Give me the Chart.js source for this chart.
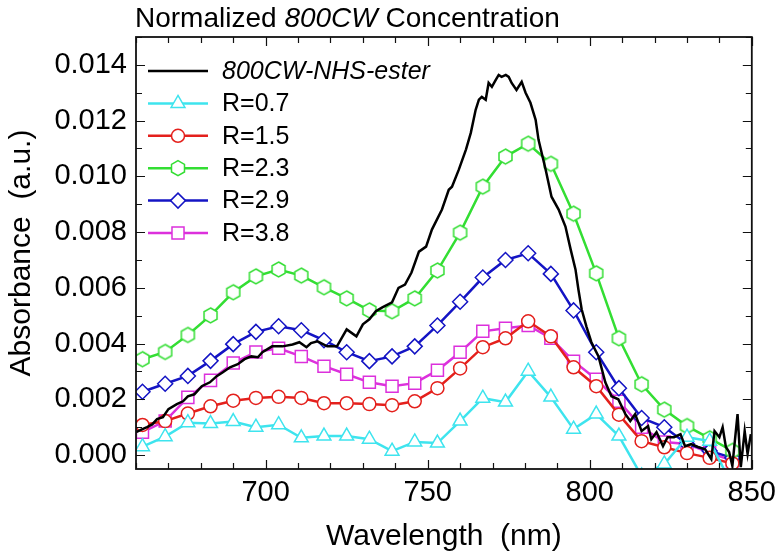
<!DOCTYPE html>
<html lang="en">
<head>
<meta charset="UTF-8">
<title>Normalized 800CW Concentration</title>
<script src="https://cdn.jsdelivr.net/npm/chart.js"></script>
<style>
  body { margin: 0; background: #fff; }
  #wrap { width: 783px; height: 558px; }
</style>
</head>
<body>
<div id="wrap"><canvas id="absChart" width="783" height="558"></canvas></div>
<script>
// marker series share the same wavelength grid (nm)
const wavelengths = [662, 669, 676, 683, 690, 697, 704, 711, 718, 725, 732, 739, 746, 753,
                     760, 767, 774, 781, 788, 795, 802, 809, 816, 823, 830, 837, 844];
const r07 = [0.00030, 0.00066, 0.00116, 0.00113, 0.00120, 0.00100, 0.00109, 0.00062, 0.00068, 0.00068,
             0.00057, 0.00014, 0.00047, 0.00043, 0.00122, 0.00204, 0.00190, 0.00301, 0.00208, 0.00093,
             0.00147, 0.00068, -0.00075, -0.00032, 0.00064, 0.00050, -0.00110];
const r15 = [0.00108, 0.00122, 0.00149, 0.00175, 0.00195, 0.00205, 0.00209, 0.00205, 0.00186, 0.00186,
             0.00183, 0.00179, 0.00193, 0.00240, 0.00311, 0.00387, 0.00419, 0.00480, 0.00426, 0.00315,
             0.00247, 0.00145, 0.00050, 0.00028, 0.00007, -0.00010, -0.00030];
const r23 = [0.00344, 0.00370, 0.00431, 0.00501, 0.00584, 0.00641, 0.00666, 0.00644, 0.00602, 0.00562,
             0.00519, 0.00516, 0.00562, 0.00662, 0.00798, 0.00963, 0.01071, 0.01117, 0.01045, 0.00866,
             0.00652, 0.00419, 0.00254, 0.00163, 0.00104, 0.00060, 0.00015];
const r29 = [0.00227, 0.00256, 0.00284, 0.00338, 0.00398, 0.00442, 0.00462, 0.00448, 0.00412, 0.00369,
             0.00337, 0.00354, 0.00390, 0.00465, 0.00550, 0.00637, 0.00700, 0.00724, 0.00650, 0.00519,
             0.00369, 0.00240, 0.00133, 0.00100, 0.00040, 0.00015, -0.00010];
const r38 = [0.00082, 0.00122, 0.00207, 0.00268, 0.00330, 0.00370, 0.00383, 0.00354, 0.00319, 0.00290,
             0.00261, 0.00247, 0.00258, 0.00304, 0.00369, 0.00444, 0.00455, 0.00465, 0.00419, 0.00337,
             0.00272, 0.00193, 0.00100, 0.00047, 0.00040, 0.00008, -0.00020];

// free dye spectrum (dense, noisy)
const esterWl = [660, 662, 663.4, 665, 666.5, 668.3, 670, 672.6, 674.5, 676, 678, 680.3, 682.8, 684.9,
  686.8, 689, 691.4, 693.5, 695.6, 697.6, 699, 702, 705.2, 708.3, 710.4, 712.6, 714, 716, 719, 722,
  725, 728, 730, 732, 734, 736, 739, 741, 743, 745, 747.3, 749.5, 751.3, 754.4, 756.5, 757.5, 759.6,
  761.8, 763.3, 764.8, 765.8, 766.7, 767.9, 768.8, 769.8, 771, 771.9, 772.8, 774.1, 775, 775.9, 777.4,
  779, 780.2, 781.7, 783.3, 784.2, 786.4, 788.2, 790.4, 792.5, 794.1, 795.6, 796.5, 797.5, 799, 800.5,
  802.7, 804.8, 806.7, 808.8, 811, 812.5, 814, 816, 818, 819, 820.6, 822.6, 824, 826, 828, 829.4,
  831.3, 833.4, 835.6, 837.5, 838.5, 840, 841, 842, 843, 844, 845.6, 846.6, 847.8, 848.7, 849.7];
const esterAbs = [0.00082, 0.00093, 0.00100, 0.00110, 0.00129, 0.00136, 0.00165, 0.00183, 0.00193, 0.00211,
  0.00218, 0.00247, 0.00261, 0.00283, 0.00297, 0.00315, 0.00326, 0.00344, 0.00354, 0.00351, 0.00369,
  0.00390, 0.00390, 0.00397, 0.00405, 0.00387, 0.00402, 0.00408, 0.00390, 0.00390, 0.00451, 0.00426,
  0.00469, 0.00487, 0.00516, 0.00530, 0.00548, 0.00600, 0.00612, 0.00655, 0.00730, 0.00748, 0.00809,
  0.00881, 0.00952, 0.00963, 0.01024, 0.01096, 0.01156, 0.01239, 0.01275, 0.01285, 0.01275, 0.01335,
  0.01321, 0.01346, 0.01364, 0.01357, 0.01364, 0.01357, 0.01335, 0.01310, 0.01339, 0.01300, 0.01264,
  0.01203, 0.01131, 0.01024, 0.00927, 0.00881, 0.00820, 0.00738, 0.00666, 0.00594, 0.00523, 0.00460,
  0.00405, 0.00354, 0.00261, 0.00211, 0.00200, 0.00147, 0.00122, 0.00147, 0.00086, 0.00104, 0.00057,
  0.00082, 0.00032, 0.00064, 0.00064, 0.00075, 0.00032, 0.00039, 0.00029, 0.00021, -0.00014, 0.00086,
  0.00064, 0.00100, 0.00029, 0.00011, -0.00039, 0.00147, -0.00043, 0.00086, 0.00004, 0.00075];

const xTickValues = [700, 750, 800, 850];
const yTickValues = [0, 0.002, 0.004, 0.006, 0.008, 0.010, 0.012, 0.014];

const FONT = "'Liberation Sans', Arial, Helvetica, sans-serif";

// hexagon marker (no built-in pointStyle for it)
function hexMarker(color, r) {
  var c = document.createElement('canvas');
  c.width = c.height = Math.ceil(r * 2 + 4);
  var g = c.getContext('2d');
  drawHex(g, c.width / 2, c.height / 2, r, color);
  return c;
}
function drawHex(g, cx, cy, r, color) {
  g.beginPath();
  for (var i = 0; i < 6; i++) {
    var a = -Math.PI / 2 + i * Math.PI / 3;
    var px = cx + r * Math.cos(a), py = cy + r * Math.sin(a);
    if (i === 0) g.moveTo(px, py); else g.lineTo(px, py);
  }
  g.closePath();
  g.fillStyle = '#fff';
  g.fill();
  g.lineWidth = 1.5;
  g.strokeStyle = color;
  g.stroke();
}

function series(label, ys, color, style, radius) {
  return {
    label: label,
    data: wavelengths.map((w, i) => ({ x: w, y: ys[i] })),
    borderColor: color,
    borderWidth: 2.5,
    pointStyle: style === 'hex' ? hexMarker(color, 7.5) : style,
    pointRadius: radius,
    pointBorderWidth: 1.5,
    pointBackgroundColor: '#fff',
    pointBorderColor: color,
    markerStyle: style,
    clip: 0
  };
}

const datasets = [
  {
    label: '800CW-NHS-ester',
    data: esterWl.map((w, i) => ({ x: w, y: esterAbs[i] })),
    borderColor: '#000',
    borderWidth: 2.5,
    pointRadius: 0,
    italic: true,
    clip: 0
  },
  series('R=0.7', r07, '#3ee4ee', 'triangle', 8),
  series('R=1.5', r15, '#e4201c', 'circle', 6.5),
  series('R=2.3', r23, '#33de33', 'hex', 7.5),
  series('R=2.9', r29, '#1414c4', 'rectRot', 7.5),
  series('R=3.8', r38, '#dc30dc', 'rect', 8.5)
];

function legendMarker(ctx, ds, x, y) {
  var st = ds.markerStyle, r = ds.pointRadius, c = ds.borderColor;
  if (!st) return;
  if (st === 'hex') { drawHex(ctx, x, y, 7.5, c); return; }
  ctx.beginPath();
  if (st === 'circle') {
    ctx.arc(x, y, r, 0, Math.PI * 2);
  } else if (st === 'triangle') {
    for (var i = 0; i < 3; i++) {
      var a = -Math.PI / 2 + i * 2 * Math.PI / 3;
      if (i === 0) ctx.moveTo(x + r * Math.cos(a), y + r * Math.sin(a));
      else ctx.lineTo(x + r * Math.cos(a), y + r * Math.sin(a));
    }
    ctx.closePath();
  } else if (st === 'rectRot') {
    ctx.moveTo(x - r, y); ctx.lineTo(x, y - r); ctx.lineTo(x + r, y); ctx.lineTo(x, y + r);
    ctx.closePath();
  } else if (st === 'rect') {
    var s = r * Math.SQRT1_2;
    ctx.rect(x - s, y - s, 2 * s, 2 * s);
  }
  ctx.fillStyle = '#fff';
  ctx.fill();
  ctx.lineWidth = 1.5;
  ctx.strokeStyle = c;
  ctx.stroke();
}

// frame with inward ticks on all four sides, legend and title
const decorations = {
  id: 'decorations',
  afterDatasetsDraw(chart) {
    const { ctx, chartArea: a, scales } = chart;
    const x = scales.x, y = scales.y;
    ctx.save();
    ctx.strokeStyle = '#111';
    ctx.lineWidth = 1.2;
    ctx.beginPath();
    for (let v = 660; v <= 850; v += 10) {
      const px = Math.round(x.getPixelForValue(v)) + 0.5;
      const len = v % 50 === 0 ? 9 : 6;
      ctx.moveTo(px, a.bottom); ctx.lineTo(px, a.bottom - len);
      ctx.moveTo(px, a.top); ctx.lineTo(px, a.top + len);
    }
    for (let i = 0; i <= 15; i++) {
      const v = i * 0.001;
      const py = Math.round(y.getPixelForValue(v)) + 0.5;
      const len = i % 2 === 0 ? 9 : 6;
      ctx.moveTo(a.left, py); ctx.lineTo(a.left + len, py);
      ctx.moveTo(a.right, py); ctx.lineTo(a.right - len, py);
    }
    ctx.stroke();
    ctx.lineWidth = 1.8;
    ctx.strokeRect(a.left, a.top, a.right - a.left, a.bottom - a.top);

    // legend
    chart.data.datasets.forEach((ds, i) => {
      const ly = 71 + i * 32.4;
      ctx.beginPath();
      ctx.moveTo(148, ly); ctx.lineTo(208, ly);
      ctx.lineWidth = 2.5;
      ctx.strokeStyle = ds.borderColor;
      ctx.stroke();
      legendMarker(ctx, ds, 178, ly);
      ctx.fillStyle = '#000';
      ctx.textBaseline = 'middle';
      ctx.textAlign = 'left';
      ctx.font = (ds.italic ? 'italic ' : '') + '25px ' + FONT;
      ctx.fillText(ds.label, 222, ly + 1);
    });

    // title with italic dye name
    ctx.textBaseline = 'alphabetic';
    ctx.fillStyle = '#000';
    let tx = 135;
    [['Normalized ', ''], ['800CW', 'italic '], [' Concentration', '']].forEach(p => {
      ctx.font = p[1] + '28px ' + FONT;
      ctx.fillText(p[0], tx, 27);
      tx += ctx.measureText(p[0]).width;
    });
    ctx.restore();
  }
};

new Chart(document.getElementById('absChart').getContext('2d'), {
  type: 'line',
  data: { datasets: datasets },
  options: {
    responsive: false,
    animation: false,
    events: [],
    layout: { padding: { top: 37, right: 29, left: 0, bottom: 0 } },
    plugins: { legend: { display: false }, tooltip: { enabled: false } },
    elements: { line: { tension: 0 } },
    scales: {
      x: {
        type: 'linear',
        min: 660,
        max: 850,
        afterBuildTicks: s => { s.ticks = xTickValues.map(v => ({ value: v })); },
        afterFit: s => { s.height = 89; },
        grid: { display: false, drawTicks: false },
        border: { display: false },
        ticks: { color: '#000', padding: 7, maxRotation: 0, autoSkip: false,
                 font: { family: FONT, size: 29 } },
        title: { display: true, text: 'Wavelength  (nm)', color: '#000',
                 font: { family: FONT, size: 30 }, padding: { top: 0, bottom: 3 } }
      },
      y: {
        type: 'linear',
        min: -0.0005,
        max: 0.015,
        afterBuildTicks: s => { s.ticks = yTickValues.map(v => ({ value: v })); },
        afterFit: s => { s.width = 136; },
        grid: { display: false, drawTicks: false },
        border: { display: false },
        ticks: { color: '#000', padding: 9, callback: v => v.toFixed(3),
                 font: { family: FONT, size: 29 } },
        title: { display: true, text: 'Absorbance  (a.u.)', color: '#000',
                 font: { family: FONT, size: 30 }, padding: { top: 4, bottom: 0 } }
      }
    }
  },
  plugins: [decorations]
});
</script>
</body>
</html>
